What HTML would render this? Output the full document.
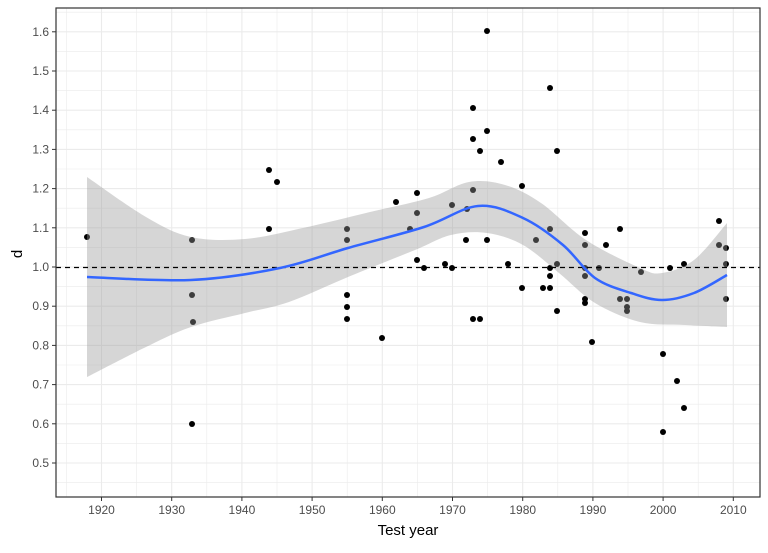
<!DOCTYPE html>
<html><head><meta charset="utf-8"><style>body{margin:0;background:#fff}</style></head><body>
<svg width="768" height="548" xmlns="http://www.w3.org/2000/svg" font-family="Liberation Sans, sans-serif">
<rect width="768" height="548" fill="#fff"/>
<g id="grid"></g>
<g id="pts" fill="#000"></g>
<path id="rib" fill="#999" fill-opacity="0.4"/>
<line x1="56" y1="267.5" x2="760" y2="267.5" stroke="#000" stroke-width="1.2" stroke-dasharray="5,4"/>
<path id="fit" fill="none" stroke="#3366FF" stroke-width="2.5"/>
<rect x="56" y="8" width="704" height="489" fill="none" stroke="#333" stroke-width="1.2"/>
<g id="ticks" stroke="#333" stroke-width="1"></g>
<g id="lab" fill="#4d4d4d" font-size="12"></g>
<text x="408" y="535" font-size="15" text-anchor="middle" fill="#000">Test year</text>
<text x="22" y="254" font-size="15" text-anchor="middle" fill="#000" transform="rotate(-90 22 254)">d</text>
</svg>
<script>
const NS="http://www.w3.org/2000/svg";
function el(p,t,a,txt){const e=document.createElementNS(NS,t);for(const k in a)e.setAttribute(k,a[k]);if(txt)e.textContent=txt;document.getElementById(p).appendChild(e);}
const X=y=>101.5+7.02*(y-1920), Y=d=>463-(d-0.5)*392;
for(let d=0.45;d<1.66;d+=0.05){const yy=Y(d);const maj=Math.abs(Math.round(d*10)-d*10)<0.01;el('grid','line',{x1:56,x2:760,y1:yy,y2:yy,stroke:'#ebebeb','stroke-width':maj?1.1:0.6});}
for(let y=1915;y<=2010;y+=5){const xx=X(y);el('grid','line',{x1:xx,x2:xx,y1:8,y2:497,stroke:'#ebebeb','stroke-width':y%10==0?1.1:0.6});}
for(let i=5;i<=16;i++){const yy=Y(i/10);el('ticks','line',{x1:52,x2:56,y1:yy,y2:yy});el('lab','text',{x:49,y:yy+4,'text-anchor':'end'},(i/10).toFixed(1));}
for(let y=1920;y<=2010;y+=10){const xx=X(y);el('ticks','line',{x1:xx,x2:xx,y1:497,y2:501});el('lab','text',{x:xx,y:514,'text-anchor':'middle'},String(y));}
function cr(p,start){let s=start?'M'+p[0][0]+','+p[0][1]:'L'+p[0][0]+','+p[0][1];for(let i=0;i<p.length-1;i++){const a=p[Math.max(0,i-1)],b=p[i],c=p[i+1],d=p[Math.min(p.length-1,i+2)];s+=' C'+(b[0]+(c[0]-a[0])/6)+','+(b[1]+(c[1]-a[1])/6)+' '+(c[0]-(d[0]-b[0])/6)+','+(c[1]-(d[1]-b[1])/6)+' '+c[0]+','+c[1];}return s;}
const F=[[87,277],[191,280],[280,268],[348,248],[424,227],[478,206],[523,218],[563,245],[595,278],[631,293],[662,300],[694,293],[727,275]];
const U=[[87,177],[146,217],[191,237],[245,239],[303,228],[370,212],[429,198],[469,182],[505,185],[541,203],[586,240],[640,268],[662,273],[694,260],[727,223]];
const L=[[87,377],[146,347],[191,327],[245,313],[289,302],[348,277],[415,250],[451,235],[487,233],[523,245],[559,273],[595,303],[640,322],[685,325],[727,327]];
document.getElementById('fit').setAttribute('d',cr(F,true));
document.getElementById('rib').setAttribute('d',cr(U,true)+' '+cr(L.slice().reverse(),false)+' Z');
const P=[[87,237],[192,240],[192,295],[193,322],[192,424],[269,170],[277,182],[269,229],[347,229],[347,240],[347,295],[347,307],[347,319],[382,338],[396,202],[410,229],[417,213],[417,193],[417,260],[424,268],[445,264],[452,205],[452,268],[466,240],[467,209],[473,108],[473,139],[473,190],[473,319],[480,151],[480,319],[487,31],[487,131],[487,240],[501,162],[508,264],[522,186],[522,288],[536,240],[543,288],[550,268],[550,276],[550,288],[550,229],[550,88],[557,264],[557,151],[557,311],[585,233],[585,245],[585,268],[585,276],[585,299],[585,303],[592,342],[599,268],[606,245],[620,229],[620,299],[627,299],[627,307],[627,311],[641,272],[663,432],[663,354],[670,268],[677,381],[684,264],[684,408],[719,221],[719,245],[726,248],[726,264],[726,299]];
P.forEach(p=>el('pts','circle',{cx:p[0],cy:p[1],r:3}));
</script>
</body></html>
